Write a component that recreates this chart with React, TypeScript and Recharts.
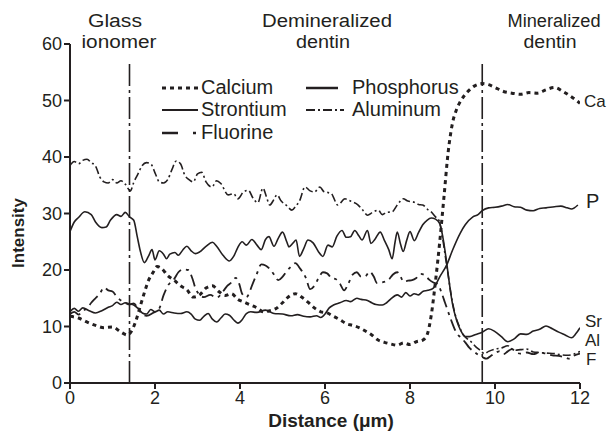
import React from 'react'
import { LineChart, Line, XAxis, YAxis, ReferenceLine } from 'recharts'

// distance (um), intensity pairs
const calcium: [number, number][] = [
  [0, 11.8], [0.2, 11.5], [0.4, 10.8], [0.6, 10.2], [0.8, 9.8], [1.0, 9.9], [1.2, 9.0], [1.35, 8.5],
  [1.45, 9.2], [1.55, 11], [1.65, 13.5], [1.75, 16], [1.85, 18.2], [1.95, 19.5], [2.05, 20.6], [2.15, 20.3],
  [2.3, 19], [2.45, 18.2], [2.6, 17.2], [2.75, 16.5], [2.9, 15.2], [3.05, 15.6], [3.2, 16.8], [3.35, 17.2],
  [3.5, 16.2], [3.65, 15.5], [3.8, 15.8], [3.95, 14.8], [4.1, 14.3], [4.25, 13.8], [4.4, 13.3], [4.55, 12.6],
  [4.7, 12.8], [4.85, 13.2], [5.0, 14.2], [5.15, 15.3], [5.3, 15.8], [5.45, 15.2], [5.6, 14.3], [5.75, 13.3],
  [5.9, 12.6], [6.05, 12.4], [6.2, 11.8], [6.35, 11.2], [6.5, 10.5], [6.65, 10.2], [6.8, 9.8], [6.95, 9.2],
  [7.1, 8.5], [7.25, 7.6], [7.4, 7.2], [7.55, 6.9], [7.7, 6.7], [7.85, 7.1], [8.0, 6.8], [8.15, 7.3],
  [8.3, 7.6], [8.4, 8.5], [8.5, 12], [8.6, 18], [8.7, 25], [8.8, 33], [8.9, 41], [9.0, 46], [9.1, 48.5],
  [9.2, 50], [9.35, 51.5], [9.5, 52.5], [9.7, 53], [9.85, 52.8], [10.0, 52.3], [10.2, 51.6], [10.4, 51.3],
  [10.6, 51.1], [10.8, 51.4], [11.0, 51.3], [11.2, 51.9], [11.4, 52.3], [11.6, 51.6], [11.75, 50.9],
  [11.9, 50.1], [12.0, 49.5],
]

const strontium: [number, number][] = [
  [0, 26.8], [0.1, 28.5], [0.2, 29.3], [0.35, 30.3], [0.5, 29.8], [0.6, 28.5], [0.75, 27.5], [0.85, 27.6],
  [0.95, 28.8], [1.1, 29.8], [1.2, 29.5], [1.3, 30.2], [1.4, 29.4], [1.5, 28.8], [1.58, 26], [1.65, 23.5],
  [1.75, 21.3], [1.85, 22.5], [1.93, 23.6], [2.0, 21.8], [2.1, 23.4], [2.2, 22.8], [2.27, 22], [2.35, 22.8],
  [2.47, 23.1], [2.55, 22.6], [2.65, 23.5], [2.75, 24.2], [2.85, 23.4], [2.95, 22.9], [3.05, 23.2],
  [3.2, 24.2], [3.35, 24.9], [3.45, 24.2], [3.6, 22.6], [3.75, 21.6], [3.85, 22.4], [3.95, 24], [4.05, 25],
  [4.15, 24.4], [4.28, 25.4], [4.4, 24.4], [4.5, 23.6], [4.6, 25.4], [4.68, 25.9], [4.8, 24.2], [4.9, 25.6],
  [5.0, 26.7], [5.1, 25], [5.15, 24.1], [5.25, 24.8], [5.32, 25.3], [5.4, 22.4], [5.5, 23.8], [5.6, 25.3],
  [5.72, 24.8], [5.85, 23.2], [5.95, 22.4], [6.07, 24.4], [6.17, 24.1], [6.28, 26], [6.4, 27], [6.5, 25.8],
  [6.6, 25.9], [6.7, 27], [6.8, 26], [6.87, 25.3], [7.0, 27], [7.08, 24.7], [7.18, 25.5], [7.3, 26.7],
  [7.4, 25.2], [7.5, 23.6], [7.58, 22], [7.65, 25], [7.7, 26.7], [7.78, 24.5], [7.84, 23.3], [7.92, 25.2],
  [8.0, 26.8], [8.1, 25.2], [8.2, 26.6], [8.3, 28], [8.4, 28.8], [8.5, 29.2], [8.6, 29], [8.7, 28.2],
  [8.78, 25.5], [8.85, 22], [8.92, 18], [9.0, 14], [9.1, 11], [9.2, 9.2], [9.3, 8.2], [9.4, 8.2],
  [9.55, 8.6], [9.7, 9], [9.85, 9.6], [10.0, 9.1], [10.15, 8.2], [10.3, 7.3], [10.45, 7.8], [10.6, 8.7],
  [10.75, 8.6], [10.9, 9.2], [11.05, 9.5], [11.2, 10.1], [11.35, 9.6], [11.5, 9.0], [11.65, 8.5],
  [11.8, 8.0], [11.9, 8.7], [12.0, 9.8],
]

const fluorine: [number, number][] = [
  [0, 12.2], [0.1, 12.6], [0.2, 12.1], [0.3, 12.8], [0.4, 13.2], [0.5, 14.2], [0.6, 15], [0.7, 15.8],
  [0.8, 16.9], [0.9, 16.4], [1.0, 16.2], [1.1, 15.3], [1.2, 14.6], [1.3, 14.2], [1.4, 13.9], [1.5, 14.1],
  [1.6, 13.2], [1.7, 12.2], [1.8, 11.9], [1.95, 12.4], [2.1, 13.2], [2.2, 15.5], [2.3, 17.2], [2.45, 18.4],
  [2.55, 19.6], [2.65, 20.1], [2.78, 20], [2.88, 18.5], [2.95, 16.8], [3.05, 15.6], [3.15, 15.2],
  [3.3, 15.6], [3.45, 15.1], [3.6, 16.2], [3.7, 17.2], [3.8, 17.8], [3.9, 18.6], [3.98, 17.6], [4.05, 15.8],
  [4.15, 15.2], [4.3, 17.6], [4.4, 19.4], [4.5, 21], [4.6, 20.8], [4.7, 20.2], [4.8, 19.2], [4.9, 18.2],
  [5.0, 18.8], [5.1, 19.8], [5.2, 20.6], [5.3, 21.2], [5.42, 20.2], [5.55, 18.6], [5.65, 16.6],
  [5.75, 17.2], [5.85, 18.6], [5.95, 19.6], [6.05, 19.4], [6.15, 18.6], [6.25, 18.4], [6.35, 17.6],
  [6.45, 16.4], [6.55, 17.6], [6.65, 19.2], [6.75, 19.6], [6.85, 18.8], [6.95, 18.9], [7.05, 19.7],
  [7.15, 18.8], [7.22, 17.7], [7.35, 17.8], [7.5, 18.3], [7.6, 19.2], [7.7, 19.6], [7.78, 18.8],
  [7.85, 17.9], [7.95, 18.1], [8.05, 18.2], [8.15, 18.6], [8.25, 19.3], [8.35, 19.1], [8.45, 18.3],
  [8.55, 17.8], [8.65, 17.5], [8.75, 15.8], [8.82, 14.3], [8.95, 11.5], [9.1, 8.8], [9.2, 8.0],
  [9.3, 7.2], [9.4, 6.2], [9.5, 5.6], [9.6, 5.0], [9.7, 4.6], [9.8, 4.3], [9.9, 4.8], [10.0, 5.3],
  [10.1, 5.6], [10.2, 5.1], [10.3, 5.6], [10.4, 6.0], [10.5, 5.4], [10.6, 5.2], [10.75, 5.4], [10.9, 5.1],
  [11.05, 5.4], [11.2, 5.2], [11.35, 4.9], [11.5, 4.8], [11.65, 4.5], [11.75, 4.3], [11.85, 4.8],
  [12.0, 5.2],
]

const phosphorus: [number, number][] = [
  [0, 12.6], [0.1, 13.2], [0.2, 12.7], [0.3, 13.3], [0.45, 12.8], [0.6, 12.4], [0.75, 12.8], [0.9, 13.4],
  [1.0, 13.7], [1.1, 14.3], [1.2, 13.9], [1.3, 14.2], [1.4, 14.0], [1.5, 13.8], [1.6, 13.2], [1.7, 12.4],
  [1.8, 12.2], [1.9, 13], [2.0, 12.6], [2.1, 12.9], [2.2, 12.2], [2.3, 12.6], [2.45, 12.4], [2.6, 12.3],
  [2.75, 12.6], [2.85, 12.2], [2.95, 11.3], [3.05, 11.1], [3.15, 11.8], [3.25, 12.3], [3.35, 11.3],
  [3.45, 10.8], [3.55, 11.5], [3.65, 12.2], [3.75, 12], [3.85, 11.2], [3.95, 10.6], [4.05, 11.2],
  [4.15, 12.3], [4.25, 12.6], [4.4, 12.5], [4.6, 12.9], [4.8, 12.3], [5.0, 12.2], [5.2, 11.9], [5.35, 12.1],
  [5.5, 11.8], [5.65, 11.7], [5.8, 11.9], [5.9, 11.6], [6.0, 12.2], [6.1, 13.3], [6.2, 13.8], [6.35, 14.2],
  [6.5, 14.6], [6.6, 14.4], [6.75, 15], [6.85, 14.8], [7.0, 14.6], [7.1, 14.2], [7.2, 13.9], [7.35, 13.8],
  [7.45, 14.2], [7.55, 14.9], [7.7, 15.6], [7.8, 15.2], [7.9, 16], [8.0, 15.4], [8.1, 15.8], [8.2, 15.6],
  [8.3, 16.2], [8.42, 16.4], [8.55, 16.8], [8.7, 18.8], [8.87, 21], [9.0, 23.5], [9.18, 26.5], [9.3, 28],
  [9.48, 29.4], [9.6, 29.8], [9.7, 30.5], [9.85, 31], [10.0, 31.1], [10.15, 31.3], [10.3, 31.6],
  [10.45, 31.2], [10.6, 31.1], [10.75, 30.6], [10.9, 30.5], [11.05, 30.9], [11.2, 31.0], [11.4, 31.2],
  [11.55, 31.3], [11.7, 31], [11.8, 30.8], [11.95, 31.5],
]

const aluminum: [number, number][] = [
  [0, 38.5], [0.1, 39.2], [0.2, 38.8], [0.3, 39.4], [0.4, 39.6], [0.5, 39], [0.6, 38.4], [0.7, 36.5],
  [0.8, 35.6], [0.9, 35.4], [1.0, 36], [1.1, 35.4], [1.2, 35.8], [1.3, 35.2], [1.42, 34], [1.5, 35.5],
  [1.6, 37], [1.7, 38.5], [1.8, 39], [1.9, 38.8], [2.0, 37.2], [2.1, 35.6], [2.2, 35.4], [2.3, 36],
  [2.4, 37.8], [2.5, 39.3], [2.6, 38.8], [2.7, 36.8], [2.8, 36], [2.9, 35.6], [3.0, 37], [3.1, 37.3],
  [3.2, 35.6], [3.34, 34.7], [3.45, 35.8], [3.55, 35.3], [3.72, 33.3], [3.85, 33.5], [3.95, 32.6],
  [4.08, 33.8], [4.2, 34.1], [4.3, 32.8], [4.42, 31.9], [4.54, 34.5], [4.62, 33], [4.7, 31.5], [4.8, 32.5],
  [4.87, 33.3], [4.97, 32.2], [5.1, 31.4], [5.22, 30.6], [5.32, 31.4], [5.4, 32.2], [5.53, 34.7],
  [5.65, 34], [5.75, 33.8], [5.88, 34.7], [5.97, 33.9], [6.07, 33.7], [6.15, 33.5], [6.3, 31.5],
  [6.47, 32.6], [6.6, 32.2], [6.78, 31.5], [6.9, 30.5], [7.0, 29.7], [7.12, 30.2], [7.25, 30.6],
  [7.35, 29.8], [7.45, 30.2], [7.58, 30.3], [7.7, 31.5], [7.84, 32.6], [7.95, 32.2], [8.1, 32], [8.2, 31.6],
  [8.3, 31.5], [8.42, 30.7], [8.5, 30.3], [8.6, 29.4], [8.68, 28.8], [8.75, 26.5], [8.82, 23], [8.9, 19],
  [8.97, 15.5], [9.05, 12.5], [9.15, 10.2], [9.25, 8.6], [9.35, 7.8], [9.45, 7.2], [9.55, 6.4], [9.65, 5.8],
  [9.75, 5.2], [9.85, 5.6], [10.0, 6], [10.15, 6.2], [10.3, 6.6], [10.45, 5.8], [10.6, 5.9], [10.75, 6.0],
  [10.9, 5.5], [11.05, 5.4], [11.2, 5.3], [11.4, 5.2], [11.55, 5.0], [11.7, 4.9], [11.85, 5.1], [12.0, 5.6],
]

const xTicks = [0, 2, 4, 6, 8, 10, 12]
const yTicks = [0, 10, 20, 30, 40, 50, 60]
// boundaries between glass ionomer / demineralized / mineralized dentin
const boundaries = [1.4, 9.7]

// the chart box runs to the window's right and bottom edges
const W = 607
const H = 431
const INK = '#231f20'
const FONT = '"Liberation Sans", Arial, Helvetica, sans-serif'

const toPoints = (arr: [number, number][]) => arr.map(([x, y]) => ({ x, y }))

const styles = {
  calcium: { strokeWidth: 3, strokeDasharray: '4 4' },
  strontium: { strokeWidth: 1.6 },
  fluorine: { strokeWidth: 1.8, strokeDasharray: '12 5 3 5' },
  phosphorus: { strokeWidth: 1.6 },
  aluminum: { strokeWidth: 1.6, strokeDasharray: '8 3 2 3' },
}

// heading text, stretched to the width it has in the figure
function Heading({ x, y, w, children }: { x: number; y: number; w: number; children: string }) {
  return (
    <text
      fontFamily={FONT}
      fontSize={18}
      fill={INK}
      x={x - w / 2}
      y={y}
      textLength={w}
      lengthAdjust="spacingAndGlyphs"
    >
      {children}
    </text>
  )
}

// text layer in page coordinates
function Overlay() {
  const txt = { fontFamily: FONT, fontSize: 20, fill: INK }
  const small = { fontFamily: FONT, fontSize: 17, fill: INK }
  return (
    <svg
      width={W}
      height={H}
      viewBox={`8 8 ${W} ${H}`}
      style={{ position: 'absolute', left: 0, top: 0, pointerEvents: 'none' }}
    >
      {/* region headings */}
      <Heading x={115} y={27} w={54}>Glass</Heading>
      <Heading x={119} y={47.5} w={75}>ionomer</Heading>
      <Heading x={327} y={27} w={130}>Demineralized</Heading>
      <Heading x={323} y={47.5} w={54}>dentin</Heading>
      <Heading x={554} y={27} w={93}>Mineralized</Heading>
      <Heading x={550} y={47.5} w={53}>dentin</Heading>

      {/* legend */}
      <line x1={162} x2={198} y1={88} y2={88} stroke={INK} {...styles.calcium} />
      <text {...txt} x={201} y={94}>Calcium</text>
      <line x1={162} x2={198} y1={110} y2={110} stroke={INK} strokeWidth={2} />
      <text {...txt} x={201} y={116}>Strontium</text>
      <line x1={162} x2={178} y1={133} y2={133} stroke={INK} strokeWidth={2.5} />
      <line x1={193} x2={196} y1={133} y2={133} stroke={INK} strokeWidth={2.5} />
      <text {...txt} x={201} y={139}>Fluorine</text>
      <line x1={306} x2={338} y1={88} y2={88} stroke={INK} strokeWidth={2.5} />
      <text {...txt} x={352} y={94}>Phosphorus</text>
      <line x1={306} x2={344} y1={110} y2={110} stroke={INK} strokeWidth={2} strokeDasharray="9 3 2 3" />
      <text {...txt} x={352} y={116}>Aluminum</text>

      {/* series end labels, kept inside the visible width */}
      <text {...small} x={584} y={107}>Ca</text>
      <text {...txt} x={586} y={208}>P</text>
      <text {...small} x={585} y={327}>Sr</text>
      <text {...small} x={585} y={346}>Al</text>
      <text {...small} x={586} y={365}>F</text>

      {/* axis titles */}
      <text
        fontFamily={FONT}
        fontSize={19}
        fontWeight="bold"
        fill={INK}
        x={331}
        y={427}
        textAnchor="middle"
      >
        Distance (μm)
      </text>
      <text
        fontFamily={FONT}
        fontSize={17}
        fontWeight="bold"
        fill={INK}
        transform="translate(24,233) rotate(-90)"
        textAnchor="middle"
      >
        Intensity
      </text>
    </svg>
  )
}

export default function App() {
  const tick = { fontFamily: FONT, fontSize: 18, fill: INK }

  return (
    <div style={{ position: 'relative', width: W, height: H, marginBottom: -8 }}>
      <LineChart width={W} height={H} margin={{ top: 36, right: 35, bottom: 16, left: 12 }}>
        <XAxis
          type="number"
          dataKey="x"
          domain={[0, 12]}
          ticks={xTicks}
          allowDataOverflow
          stroke={INK}
          strokeWidth={2}
          tickSize={6}
          tick={tick}
          height={40}
        />
        <YAxis
          type="number"
          dataKey="y"
          domain={[0, 60]}
          ticks={yTicks}
          allowDataOverflow
          stroke={INK}
          strokeWidth={2}
          tickSize={6}
          tick={tick}
          width={50}
        />
        {boundaries.map((b) => (
          <ReferenceLine
            key={b}
            segment={[{ x: b, y: 0 }, { x: b, y: 57 }]}
            stroke={INK}
            strokeWidth={1.6}
            strokeDasharray="22 4 3 4"
          />
        ))}
        <Line data={toPoints(aluminum)} dataKey="y" type="monotone" stroke={INK} dot={false} activeDot={false} isAnimationActive={false} {...styles.aluminum} />
        <Line data={toPoints(strontium)} dataKey="y" type="monotone" stroke={INK} dot={false} activeDot={false} isAnimationActive={false} {...styles.strontium} />
        <Line data={toPoints(phosphorus)} dataKey="y" type="monotone" stroke={INK} dot={false} activeDot={false} isAnimationActive={false} {...styles.phosphorus} />
        <Line data={toPoints(fluorine)} dataKey="y" type="monotone" stroke={INK} dot={false} activeDot={false} isAnimationActive={false} {...styles.fluorine} />
        <Line data={toPoints(calcium)} dataKey="y" type="monotone" stroke={INK} dot={false} activeDot={false} isAnimationActive={false} {...styles.calcium} />
      </LineChart>
      <Overlay />
    </div>
  )
}
